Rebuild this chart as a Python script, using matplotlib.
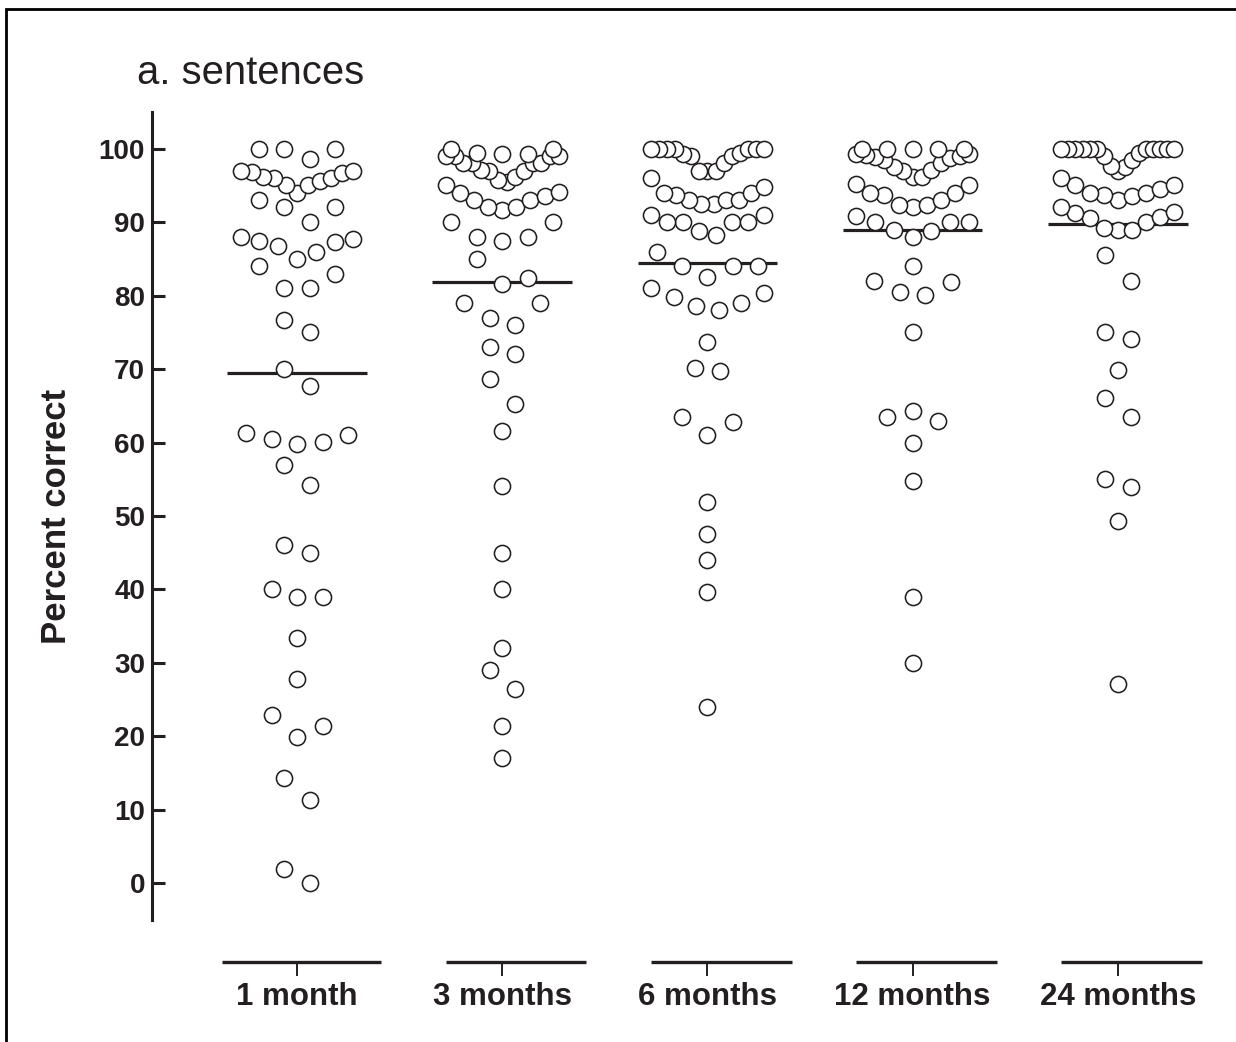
import matplotlib
matplotlib.use("Agg")
import matplotlib.pyplot as plt
import numpy as np
from matplotlib.patches import Rectangle

# ---------------- data ----------------
categories = ["1 month", "3 months", "6 months", "12 months", "24 months"]

month_1 = [0, 2, 11.3, 14.3, 19.9, 21.4, 22.9, 27.8, 33.4, 39, 39, 40, 45, 46,
           54.2, 57, 59.8, 60.1, 60.5, 61, 61.3, 67.7, 70, 75, 76.7,
           81, 81, 83, 84, 85, 86, 86.8, 87.3, 87.5, 87.7, 88,
           90, 92, 92, 93, 94, 95, 95, 95.6, 96, 96, 96.2, 96.7, 96.8, 97, 97,
           98.6, 100, 100, 100]
month_3 = [17, 21.4, 26.4, 29, 32, 40, 45, 54.1, 61.6, 65.2, 68.7, 72, 73,
           76, 77, 79, 79, 81.6, 82.4, 85, 87.4, 88, 88, 90, 90,
           91.6, 92, 92, 93, 93, 93.5, 94, 94.1, 95,
           95.5, 95.8, 96.2, 97, 97, 97.1, 98, 98, 98, 98, 99, 99, 99, 99,
           99.3, 99.3, 99.4, 100, 100]
month_6 = [24, 39.6, 44, 47.6, 51.9, 61, 62.8, 63.5, 69.8, 70.2, 73.7,
           78, 78.6, 79, 79.8, 80.4, 81, 82.6, 84, 84, 84, 86,
           88.3, 88.8, 90, 90, 90, 90, 91, 91,
           92.5, 92.5, 93, 93, 93, 93.7, 94, 94, 94.8,
           96, 97, 97, 97, 98, 99, 99, 99.3, 99.4,
           100, 100, 100, 100, 100, 100, 100]
month_12 = [30, 39, 54.7, 60, 63, 63.5, 64.3, 75, 80.1, 80.5, 81.9, 82, 84,
            88, 88.8, 89, 90, 90, 90, 90.9,
            92, 92.3, 92.3, 93, 93.7, 94, 94, 95, 95.2,
            96.2, 96.2, 97, 97.1, 97.5, 98, 98.5, 98.8, 98.9, 99, 99.2, 99.3, 99.3,
            100, 100, 100, 100, 100]
month_24 = [27.1, 49.3, 54, 55, 63.5, 66.1, 69.9, 74.1, 75, 82, 85.5,
            89, 89, 89.2, 90, 90.6, 90.7, 91.2, 91.4, 92.1,
            93, 93.5, 93.7, 94, 94, 94.5, 95, 95, 96,
            97, 97.5, 97.6, 98.5, 99, 99.4,
            100, 100, 100, 100, 100, 100, 100, 100, 100, 100, 100]
groups = [month_1, month_3, month_6, month_12, month_24]
group_means = [69.5, 81.9, 84.5, 88.9, 89.8]

title = "a. sentences"
ylabel = "Percent correct"
yticks = [0, 10, 20, 30, 40, 50, 60, 70, 80, 90, 100]

# ---------------- layout helper (Prism-like row swarm) ----------------
def swarm(values, window=3.55, slot=0.124, max_span=0.55):
    v = np.sort(np.asarray(values, float))
    offs = np.zeros(len(v))
    i = 0
    while i < len(v):
        j = i + 1
        while j < len(v) and v[j] - v[i] <= window + 1e-9:
            j += 1
        k = j - i
        sp = slot if k < 2 else min(slot, max_span / (k - 1))
        if k % 2:
            seq = [0.0]
            m = 1
            while len(seq) < k:
                seq += [m, -m]
                m += 1
        else:
            seq = []
            m = 0.5
            while len(seq) < k:
                seq += [m, -m]
                m += 1
        offs[i:j] = np.array(seq[:k]) * sp
        i = j
    return v, offs

# ---------------- figure ----------------
W, H = 1236, 1042
fig = plt.figure(figsize=(W / 100, H / 100), dpi=100)
font = "Liberation Sans"
ink = "#231f20"

ax = fig.add_axes([152 / W, 122 / H, 1068 / W, 808 / H])
ax.set_xlim(-0.707, 4.498)
ax.set_ylim(-5, 105)

for gi, vals in enumerate(groups):
    m = group_means[gi]
    ax.plot([gi - 0.34, gi + 0.34], [m, m], color=ink, lw=2.3,
            solid_capstyle="butt", zorder=2)
    yv, xo = swarm(vals)
    ax.scatter(gi + xo, yv, s=135, facecolor="white", edgecolor=ink,
               linewidth=1.15, zorder=3, clip_on=False)

for s in ["top", "right", "bottom"]:
    ax.spines[s].set_visible(False)
ax.spines["left"].set_linewidth(2.2)
ax.spines["left"].set_color(ink)
ax.set_yticks(yticks)
ax.set_yticklabels([str(t) for t in yticks], fontfamily=font,
                   fontweight="bold", fontsize=20, color=ink)
ax.tick_params(axis="y", direction="in", length=9.4, width=2.2, pad=5,
               color=ink)
ax.set_xticks([])

# broken x axis segments with centred ticks
seg_y = -10.73
for gi, lab in enumerate(categories):
    left = -0.366 if gi == 0 else -0.275
    ax.plot([gi + left, gi + 0.41], [seg_y, seg_y], color=ink, lw=2.4,
            solid_capstyle="butt", clip_on=False)
    ax.plot([gi, gi], [seg_y, seg_y - 1.8], color=ink, lw=1.4,
            clip_on=False)
    ax.text(gi, -16.55, lab, ha="center", va="baseline", fontsize=22.5,
            fontweight="bold", fontfamily=font, color=ink, clip_on=False)

fig.text(137 / W, 1 - 84 / H, title, fontsize=28.8, fontfamily=font,
         va="baseline", ha="left", color=ink)
fig.text(56 / W, 1 - 516 / H, ylabel, rotation=90, fontsize=25,
         fontweight="bold", fontfamily=font, va="center", ha="center",
         color=ink)

frame = Rectangle((5.5 / W, -0.05), 1.5, 1 - 9 / H + 0.05, fill=False,
                  lw=2.0, edgecolor="black", transform=fig.transFigure,
                  clip_on=False)
fig.add_artist(frame)

fig.savefig("out.png", dpi=100)
